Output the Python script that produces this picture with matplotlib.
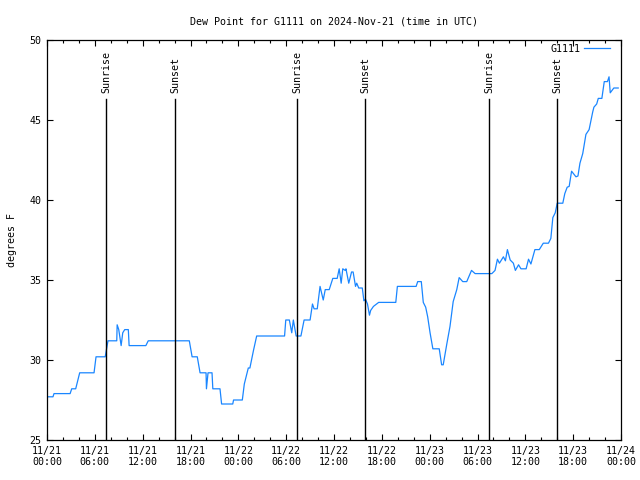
import matplotlib
matplotlib.use("Agg")
import matplotlib.pyplot as plt
import matplotlib.dates as mdates
import numpy as np
import pandas as pd

plt.rcParams["font.family"] = ["DejaVu Sans Mono"]
plt.rcParams["font.size"] = 7.2

START = pd.Timestamp("2024-11-21 00:00")

# hours since 2024-11-21 00:00 UTC, dew point in degrees F
hours = [
    0.13, 0.75, 0.88, 2.9, 3.1, 3.6, 4.1, 5.9, 6.15, 7.3, 7.65, 8.75, 8.8, 9.0,
    9.3, 9.5, 9.75, 10.2, 10.3, 12.4, 12.7, 17.85, 18.2, 18.85, 19.2, 19.95,
    20.0, 20.2, 20.7, 20.8, 21.7, 21.9, 23.3, 23.4, 24.5, 24.75, 25.25, 25.45,
    25.9, 26.3, 29.8, 29.95, 30.4, 30.7, 30.9, 31.25, 31.85, 32.25, 33.0, 33.3,
    33.5, 33.9, 34.25, 34.65, 34.9, 35.4, 35.85, 36.4, 36.65, 36.9, 37.1, 37.4,
    37.5, 37.85, 38.2, 38.4, 38.7, 38.85, 39.1, 39.55, 39.75, 39.95, 40.2,
    40.45, 40.6, 40.95, 41.6, 43.75, 43.95, 46.3, 46.5, 46.95, 47.2, 47.5,
    47.75, 48.05, 48.4, 49.2, 49.5, 49.7, 50.15, 50.55, 50.95, 51.4, 51.7,
    52.15, 52.65, 53.25, 53.7, 55.8, 56.2, 56.5, 56.75, 57.25, 57.5, 57.75,
    58.1, 58.5, 58.75, 59.15, 59.45, 60.1, 60.4, 60.7, 61.2, 61.75, 62.25,
    62.9, 63.2, 63.45, 63.75, 64.0, 64.7, 64.95, 65.25, 65.5, 65.8, 66.35,
    66.6, 66.85, 67.2, 67.6, 68.0, 68.45, 68.6, 68.95, 69.15, 69.6, 69.9,
    70.3, 70.5, 70.65, 71.1, 71.65,
]
dewpoint = [
    27.7, 27.7, 27.9, 27.9, 28.2, 28.2, 29.2, 29.2, 30.2, 30.2, 31.2, 31.2, 32.2, 31.9,
    30.9, 31.7, 31.9, 31.9, 30.9, 30.9, 31.2, 31.2, 30.2, 30.2, 29.2, 29.2,
    28.2, 29.2, 29.2, 28.2, 28.2, 27.25, 27.25, 27.5, 27.5, 28.5, 29.5, 29.5,
    30.6, 31.5, 31.5, 32.5, 32.5, 31.7, 32.5, 31.5, 31.5, 32.5, 32.5, 33.5,
    33.2, 33.2, 34.6, 33.75, 34.4, 34.4, 35.1, 35.1, 35.7, 34.8, 35.7, 35.6,
    35.7, 34.8, 35.5, 35.5, 34.6, 34.8, 34.5, 34.5, 33.7, 33.8, 33.5,
    32.8, 33.1, 33.35, 33.6, 33.6, 34.6, 34.6, 34.9, 34.9, 33.6, 33.3,
    32.7, 31.7, 30.7, 30.7, 29.7, 29.7, 31.0, 32.1, 33.65, 34.4, 35.15,
    34.9, 34.9, 35.6, 35.4, 35.4, 35.6, 36.3, 36.05, 36.45, 36.2, 36.9,
    36.25, 36.05, 35.6, 35.95, 35.7, 35.7, 36.3, 36.0, 36.9, 36.9, 37.3,
    37.3, 37.6, 38.9, 39.2, 39.8, 39.8, 40.4, 40.8, 40.85, 41.8, 41.45,
    41.5, 42.3, 42.9, 44.1, 44.4, 45.5, 45.8, 46.0, 46.35, 46.35, 47.4,
    47.4, 47.7, 46.7, 47.0, 47.0,
]

sunrise_hours = [7.4, 31.36, 55.44]
sunset_hours = [16.06, 39.89, 63.97]


def to_time(h):
    return START + pd.to_timedelta(np.asarray(h), unit="h")


fig = plt.figure(figsize=(6.4, 4.8), dpi=100)
ax = fig.add_axes([47 / 640, 40 / 480, 574 / 640, 400 / 480])

ax.plot(to_time(hours), dewpoint, color="#1a86ff", lw=0.9, label="G1111")

# sunrise / sunset markers
for label, hrs in (("Sunrise", sunrise_hours), ("Sunset", sunset_hours)):
    for t in to_time(hrs):
        ax.plot([t, t], [25, 46.3], color="black", lw=1.0)
        ax.text(t, 46.7, label, rotation=90, ha="center", va="bottom")

ax.set_xlim(START, START + pd.Timedelta(hours=72))
ax.set_ylim(25, 50)
ax.set_yticks(range(25, 51, 5))

ax.xaxis.set_major_locator(mdates.HourLocator(byhour=range(0, 24, 6)))
ax.xaxis.set_minor_locator(mdates.HourLocator(byhour=range(0, 24, 2)))
ax.xaxis.set_major_formatter(mdates.DateFormatter("%m/%d\n%H:%M"))

ax.tick_params(which="both", direction="in", top=True, right=True, width=0.8)
ax.tick_params(which="major", length=4.5, pad=4)
ax.tick_params(which="minor", length=2.5)
for s in ax.spines.values():
    s.set_linewidth(0.9)

ax.set_title("Dew Point for G1111 on 2024-Nov-21 (time in UTC)", fontsize=7.2, pad=11)
ax.set_ylabel("degrees F", labelpad=9)

ax.legend(loc="upper right", bbox_to_anchor=(0.981, 0.99), frameon=False,
          markerfirst=False, handlelength=2.6, borderaxespad=0, borderpad=0,
          handletextpad=0.4)

fig.savefig("out.png", dpi=100)
